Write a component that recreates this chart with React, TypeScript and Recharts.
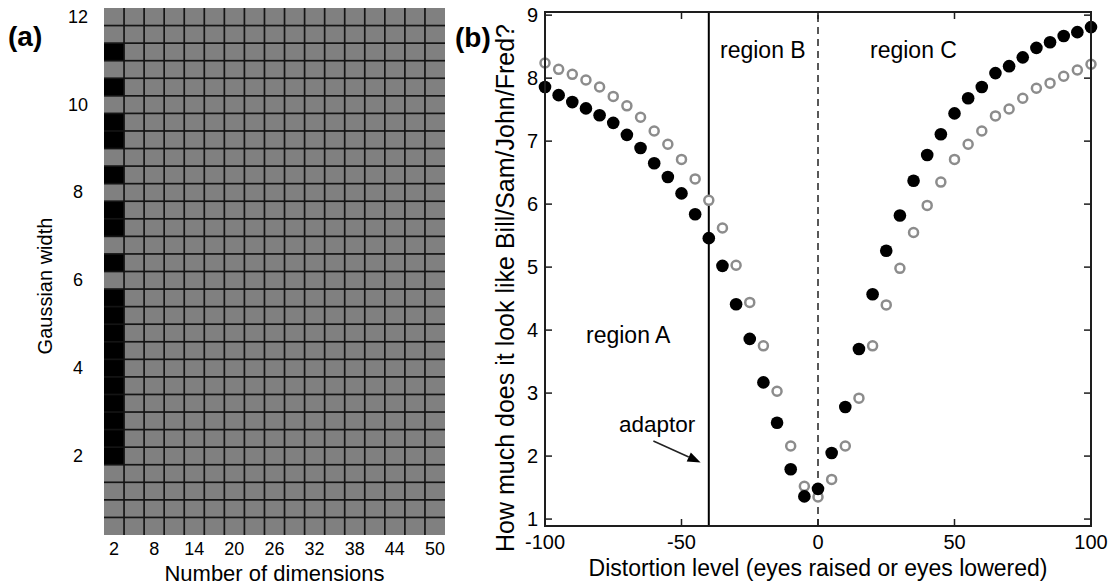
import { ScatterChart, Scatter, XAxis, YAxis, ReferenceLine, Label } from "recharts";

const FONT = '"Liberation Sans", Arial, Helvetica, sans-serif';

// panel (a): which dimensionality wins for each gaussian width
const dims = [2, 5, 8, 11, 14, 17, 20, 23, 26, 29, 32, 35, 38, 41, 44, 47, 50];
const dimTicks = [2, 8, 14, 20, 26, 32, 38, 44, 50];
const widths = [
  0.4, 0.8, 1.2, 1.6, 2.0, 2.4, 2.8, 3.2, 3.6, 4.0, 4.4, 4.8, 5.2, 5.6, 6.0,
  6.4, 6.8, 7.2, 7.6, 8.0, 8.4, 8.8, 9.2, 9.6, 10.0, 10.4, 10.8, 11.2, 11.6, 12.0,
];
const widthTicks = [2, 4, 6, 8, 10, 12];
const winDim = 2;
const winWidths = [2.0, 2.4, 2.8, 3.2, 3.6, 4.0, 4.4, 4.8, 5.2, 5.6, 6.4, 7.2, 7.6, 8.4, 9.2, 9.6, 10.4, 11.2];

// panel (b): similarity ratings vs distortion level
const distortion = [
  -100, -95, -90, -85, -80, -75, -70, -65, -60, -55, -50, -45, -40, -35, -30, -25, -20, -15, -10, -5,
  0, 5, 10, 15, 20, 25, 30, 35, 40, 45, 50, 55, 60, 65, 70, 75, 80, 85, 90, 95, 100,
];
const ratingFilled = [
  7.86, 7.73, 7.62, 7.52, 7.41, 7.29, 7.1, 6.89, 6.65, 6.43, 6.17, 5.84, 5.46, 5.02, 4.41, 3.86, 3.17, 2.53, 1.79, 1.36,
  1.48, 2.05, 2.78, 3.7, 4.57, 5.26, 5.82, 6.37, 6.78, 7.11, 7.44, 7.68, 7.86, 8.08, 8.19, 8.33, 8.48, 8.57, 8.67, 8.73, 8.81,
];
const ratingOpen = [
  8.24, 8.14, 8.06, 7.97, 7.86, 7.71, 7.56, 7.38, 7.16, 6.95, 6.71, 6.4, 6.06, 5.62, 5.03, 4.44, 3.75, 3.03, 2.16, 1.52,
  1.35, 1.63, 2.16, 2.92, 3.75, 4.4, 4.98, 5.55, 5.98, 6.35, 6.71, 6.95, 7.16, 7.4, 7.51, 7.68, 7.84, 7.92, 8.03, 8.13, 8.22,
];
const distTicks = [-100, -50, 0, 50, 100];
const ratingTicks = [1, 2, 3, 4, 5, 6, 7, 8, 9];
const adaptorLevel = -40;
const adaptorArrow = [
  { x: -60.3, y: 2.24 },
  { x: -43, y: 1.9 },
];

// panel (a) plot box
const A_W = 460;
const A_H = 585;
const A_MARGIN = { top: 8, right: 15, bottom: 0, left: 0 };
const A_YAXIS_W = 104;
const A_XAXIS_H = 50;
const A_PLOT_W = A_W - A_MARGIN.left - A_MARGIN.right - A_YAXIS_W;
const A_PLOT_H = A_H - A_MARGIN.top - A_MARGIN.bottom - A_XAXIS_H;
const CELL_W = A_PLOT_W / dims.length;
const CELL_H = A_PLOT_H / widths.length;

// panel (b) layout
const B_LEFT = 440;
const B_W = 680;
const B_H = 585;
const B_MARGIN = { top: 12, right: 29, bottom: 0, left: 0 };
const B_YAXIS_W = 105;
const B_XAXIS_H = 59;
const X_DOM: [number, number] = [-100, 100];
const Y_DOM: [number, number] = [0.89, 9.05];
// plot box in page pixels, for the MATLAB-style frame with inward ticks
const BOX = {
  left: B_LEFT + B_MARGIN.left + B_YAXIS_W,
  right: B_LEFT + B_W - B_MARGIN.right,
  top: B_MARGIN.top,
  bottom: B_H - B_MARGIN.bottom - B_XAXIS_H,
};
const TICK_LEN = 7;

const cells = dims.flatMap((d, col) =>
  widths.map((w, row) => ({
    dim: d,
    width: w,
    col,
    row,
    win: d === winDim && winWidths.includes(w),
  }))
);

const ratings = distortion.map((x, i) => ({ x, filled: ratingFilled[i], open: ratingOpen[i] }));

function CellFill(props: any) {
  const { cx, cy, payload } = props;
  return (
    <rect
      x={cx - CELL_W / 2}
      y={cy - CELL_H / 2}
      width={CELL_W}
      height={CELL_H}
      fill={payload.win ? "#000" : "#808080"}
    />
  );
}

function CellEdges(props: any) {
  const { cx, cy, payload } = props;
  const x = cx - CELL_W / 2;
  const y = cy - CELL_H / 2;
  return (
    <g stroke="#141414" strokeWidth={1.7}>
      {payload.col > 0 && <line x1={x} y1={y} x2={x} y2={y + CELL_H} />}
      {payload.row < widths.length - 1 && <line x1={x} y1={y} x2={x + CELL_W} y2={y} />}
    </g>
  );
}

function rotatedTitle(text: string, baselineX: number, centerY: number, size: number) {
  return () => (
    <text
      x={baselineX}
      y={centerY}
      transform={`rotate(-90 ${baselineX} ${centerY})`}
      textAnchor="middle"
      fontSize={size}
      fontFamily={FONT}
      fill="#000"
    >
      {text}
    </text>
  );
}

function GridPanel() {
  return (
    <ScatterChart width={A_W} height={A_H} margin={A_MARGIN}>
      <XAxis
        type="number"
        dataKey="dim"
        domain={[0.5, 51.5]}
        ticks={dimTicks}
        axisLine={false}
        tickLine={false}
        height={A_XAXIS_H}
        tick={(p: any) => (
          <text x={p.x} y={p.y + 6} textAnchor="middle" dominantBaseline="central" fontSize={18} fontFamily={FONT} fill="#000">
            {p.payload.value}
          </text>
        )}
      >
        <Label
          position="insideBottom"
          offset={4}
          value="Number of dimensions"
          style={{ fontSize: 22, fontFamily: FONT, fill: "#000" }}
        />
      </XAxis>
      <YAxis
        type="number"
        dataKey="width"
        domain={[0.2, 12.2]}
        ticks={widthTicks}
        axisLine={false}
        tickLine={false}
        width={A_YAXIS_W}
        tick={(p: any) => (
          <text x={p.x - 18} y={p.y} textAnchor="middle" dominantBaseline="central" fontSize={18} fontFamily={FONT} fill="#000">
            {p.payload.value}
          </text>
        )}
      >
        <Label content={rotatedTitle("Gaussian width", 52, 286, 20)} />
      </YAxis>
      <Scatter data={cells} shape={CellFill} isAnimationActive={false} />
      <Scatter data={cells} shape={CellEdges} isAnimationActive={false} />
    </ScatterChart>
  );
}

function FilledDot(props: any) {
  return <circle cx={props.cx} cy={props.cy} r={6.3} fill="#000" />;
}

function OpenDot(props: any) {
  return <circle cx={props.cx} cy={props.cy} r={4.5} fill="#fff" stroke="#8c8c8c" strokeWidth={2.5} />;
}

function Arrow(props: any) {
  const { x1, y1, x2, y2 } = props;
  const ang = Math.atan2(y2 - y1, x2 - x1);
  const len = 13;
  const half = 5;
  const bx = x2 - len * Math.cos(ang);
  const by = y2 - len * Math.sin(ang);
  const px = -Math.sin(ang) * half;
  const py = Math.cos(ang) * half;
  return (
    <g>
      <line x1={x1} y1={y1} x2={bx} y2={by} stroke="#222" strokeWidth={1.5} />
      <polygon points={`${x2},${y2} ${bx + px},${by + py} ${bx - px},${by - py}`} fill="#000" />
    </g>
  );
}

function RatingPanel() {
  return (
    <ScatterChart width={B_W} height={B_H} margin={B_MARGIN}>
      <XAxis
        type="number"
        dataKey="x"
        domain={X_DOM}
        ticks={distTicks}
        axisLine={false}
        tickLine={false}
        height={B_XAXIS_H}
        tick={(p: any) => (
          <text x={p.x} y={p.y + 8} textAnchor="middle" dominantBaseline="central" fontSize={20} fontFamily={FONT} fill="#000">
            {p.payload.value}
          </text>
        )}
      >
        <Label
          position="insideBottom"
          offset={9}
          value="Distortion level (eyes raised or eyes lowered)"
          style={{ fontSize: 23, fontFamily: FONT, fill: "#000" }}
        />
      </XAxis>
      <YAxis
        type="number"
        domain={Y_DOM}
        ticks={ratingTicks}
        axisLine={false}
        tickLine={false}
        width={B_YAXIS_W}
        tick={(p: any) => (
          <text x={p.x + 1} y={p.y} textAnchor="end" dominantBaseline="central" fontSize={20} fontFamily={FONT} fill="#000">
            {p.payload.value}
          </text>
        )}
      >
        <Label content={rotatedTitle("How much does it look like Bill/Sam/John/Fred?", 74, 288, 25)} />
      </YAxis>
      <ReferenceLine x={adaptorLevel} stroke="#000" strokeWidth={2} />
      <ReferenceLine x={0} stroke="#222" strokeWidth={1.5} strokeDasharray="7 5" />
      <ReferenceLine segment={adaptorArrow} shape={Arrow} />
      <Scatter data={ratings} dataKey="open" shape={OpenDot} isAnimationActive={false} />
      <Scatter data={ratings} dataKey="filled" shape={FilledDot} isAnimationActive={false} />
    </ScatterChart>
  );
}

// frame and inward tick marks of panel (b), drawn as thin filled bars on the plot box
function Frame() {
  const bw = BOX.right - BOX.left;
  const bh = BOX.bottom - BOX.top;
  const px = (t: number) => BOX.left + ((t - X_DOM[0]) / (X_DOM[1] - X_DOM[0])) * bw;
  const py = (v: number) => BOX.bottom - ((v - Y_DOM[0]) / (Y_DOM[1] - Y_DOM[0])) * bh;
  const c = "#1e1e1e";
  const lw = 2;
  const tw = 1.5;
  return (
    <g fill={c}>
      <rect x={BOX.left - lw / 2} y={BOX.top - lw / 2} width={lw} height={bh + lw} />
      <rect x={BOX.right - lw / 2} y={BOX.top - lw / 2} width={lw} height={bh + lw} />
      <rect x={BOX.left - lw / 2} y={BOX.top - lw / 2} width={bw + lw} height={lw} />
      <rect x={BOX.left - lw / 2} y={BOX.bottom - lw / 2} width={bw + lw} height={lw} />
      {distTicks.map((t) => (
        <g key={`x${t}`}>
          <rect x={px(t) - tw / 2} y={BOX.bottom - TICK_LEN} width={tw} height={TICK_LEN} />
          <rect x={px(t) - tw / 2} y={BOX.top} width={tw} height={TICK_LEN} />
        </g>
      ))}
      {ratingTicks.map((v) => (
        <g key={`y${v}`}>
          <rect x={BOX.left} y={py(v) - tw / 2} width={TICK_LEN} height={tw} />
          <rect x={BOX.right - TICK_LEN} y={py(v) - tw / 2} width={TICK_LEN} height={tw} />
        </g>
      ))}
    </g>
  );
}

export default function App() {
  const txt = { fontFamily: FONT, fill: "#000" };
  return (
    <div style={{ position: "absolute", left: 0, top: 0, width: 1120, height: 585, background: "#fff" }}>
      <div style={{ position: "absolute", left: 0, top: 0 }}>
        <GridPanel />
      </div>
      <div style={{ position: "absolute", left: B_LEFT, top: 0 }}>
        <RatingPanel />
      </div>
      <svg
        width={1120}
        height={585}
        style={{ position: "absolute", left: 0, top: 0, pointerEvents: "none" }}
      >
        <Frame />
        <text x={8} y={46} fontSize={28} fontWeight="bold" {...txt}>(a)</text>
        <text x={455} y={47} fontSize={28} fontWeight="bold" {...txt}>(b)</text>
        <text x={586} y={343} fontSize={23} {...txt}>region A</text>
        <text x={720} y={58} fontSize={23} {...txt}>region B</text>
        <text x={870} y={58} fontSize={23} {...txt}>region C</text>
        <text x={619} y={432} fontSize={22.5} {...txt}>adaptor</text>
      </svg>
    </div>
  );
}
